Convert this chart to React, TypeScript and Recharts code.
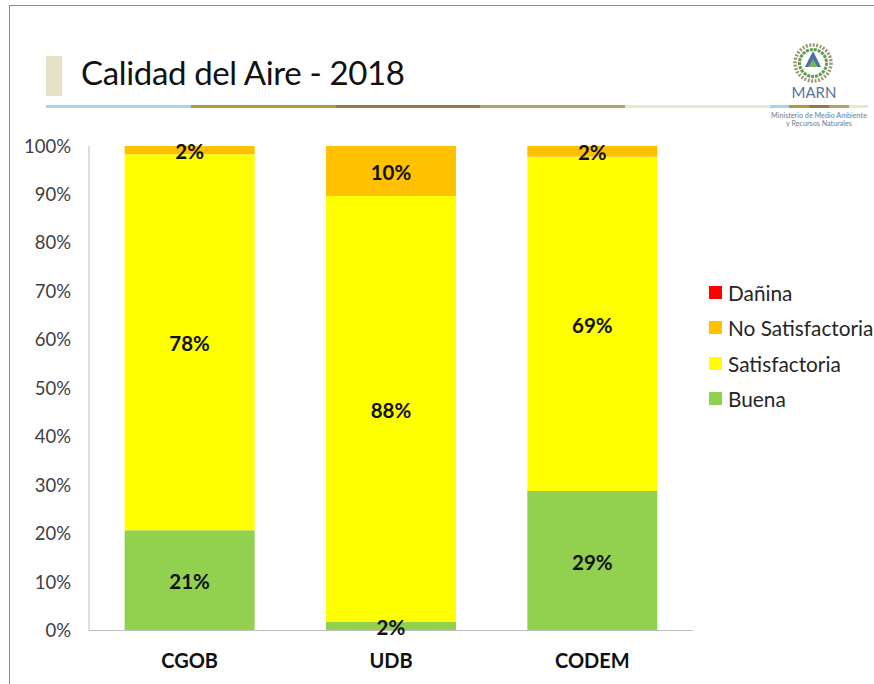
import React from 'react';
import { BarChart, Bar, XAxis, YAxis, Legend, LabelList } from 'recharts';

const STATIONS = ['CGOB', 'UDB', 'CODEM'];
const BUENA = [20.7, 1.8, 28.8];
const SATISFACTORIA = [77.6, 87.9, 69];
const NO_SATISFACTORIA = [1.7, 10.3, 2.2];
const DANINA = [0, 0, 0];
const Y_TICKS = [0, 10, 20, 30, 40, 50, 60, 70, 80, 90, 100];

const FONT = 'Lato, "Open Sans", sans-serif';

const SERIES = [
  { name: 'Buena', values: BUENA, color: '#92d050' },
  { name: 'Satisfactoria', values: SATISFACTORIA, color: '#ffff00' },
  { name: 'No Satisfactoria', values: NO_SATISFACTORIA, color: '#ffc000' },
  { name: 'Dañina', values: DANINA, color: '#ff0000' },
];

const RULE_SEGMENTS = [
  { left: 46, width: 145, color: '#a3d6ea' },
  { left: 191, width: 145, color: '#b09a3e' },
  { left: 336, width: 144, color: '#957a45' },
  { left: 480, width: 145, color: '#aca468' },
  { left: 625, width: 145, color: '#ebe8d2' },
  { left: 770, width: 19, color: '#a3d6ea' },
  { left: 789, width: 20, color: '#b09a3e' },
  { left: 809, width: 20, color: '#957a45' },
  { left: 829, width: 20, color: '#aca468' },
  { left: 849, width: 19, color: '#ebe8d2' },
];

const data = STATIONS.map((station, i) => {
  const row: Record<string, string | number> = { station };
  for (const s of SERIES) row[s.name] = s.values[i];
  return row;
});

const percentLabel = (value: any) => (Number(value) > 0 ? `${Math.round(Number(value))}%` : '');

// label nudged 1px down from the segment centre, as in the original slide
const SegmentLabel = (props: any) => {
  const { x, y, width, height, value } = props;
  const text = percentLabel(value);
  if (!text) return null;
  return (
    <text
      x={x + width / 2}
      y={y + height / 2 + 1}
      textAnchor="middle"
      dominantBaseline="central"
      fontSize={20.5}
      fontWeight={700}
      fill="#111"
    >
      {text}
    </text>
  );
};

const LegendList = () => (
  <div style={{ fontFamily: FONT }}>
    {[...SERIES].reverse().map((s) => (
      <div key={s.name} style={{ display: 'flex', alignItems: 'center', height: 35.3, fontSize: 20.8, color: '#262626', whiteSpace: 'nowrap' }}>
        <span style={{ width: 13, height: 13, background: s.color, marginRight: 6, flex: 'none' }} />
        {s.name}
      </div>
    ))}
  </div>
);

const Logo = () => (
  <svg width={114} height={105} style={{ position: 'absolute', left: 760, top: 30 }}>
    <circle cx={53} cy={33} r={18} fill="none" stroke="#9a9a72" strokeWidth={3.5} strokeDasharray="2 1.5" />
    <circle cx={53} cy={33} r={13.5} fill="none" stroke="#5f9a4a" strokeWidth={3} strokeDasharray="3 1" />
    <polygon points="53,21 61,37 45,37" fill="#4a6ea8" />
    <polygon points="53,29 58,37 48,37" fill="#7fae5a" />
    <text x={54} y={68} textAnchor="middle" fontFamily={FONT} fontSize={15} fill="#5c7299">MARN</text>
    <text x={59} y={88} textAnchor="middle" fontFamily={FONT} fontSize={7.2} fill="#6d7d96">Ministerio de Medio Ambiente</text>
    <text x={59} y={96} textAnchor="middle" fontFamily={FONT} fontSize={7.2} fill="#6d7d96">y Recursos Naturales</text>
  </svg>
);

export default function App() {
  return (
    <div style={{ position: 'absolute', left: 0, top: 0, width: 874, height: 684, background: '#fff', overflow: 'hidden' }}>
      <div style={{ position: 'absolute', left: 9, top: 5, width: 865, height: 1, background: '#8c8c8c' }} />
      <div style={{ position: 'absolute', left: 9, top: 5, width: 1, height: 679, background: '#8c8c8c' }} />
      <div style={{ position: 'absolute', left: 46, top: 56, width: 16, height: 40, background: '#e6e2c8' }} />
      <div style={{ position: 'absolute', left: 81, top: 52, fontFamily: FONT, fontSize: 33, letterSpacing: -0.35, color: '#111', whiteSpace: 'nowrap' }}>
        Calidad del Aire - 2018
      </div>
      {RULE_SEGMENTS.map((seg) => (
        <div key={seg.left} style={{ position: 'absolute', left: seg.left, top: 105, width: seg.width, height: 3, background: seg.color }} />
      ))}
      <Logo />
      <div style={{ position: 'absolute', left: 0, top: 0 }}>
        <BarChart
          width={874}
          height={684}
          data={data}
          barCategoryGap="17.7%"
          margin={{ top: 146, right: 15, bottom: 13.5, left: 29 }}
          style={{ fontFamily: FONT }}
        >
          <XAxis
            dataKey="station"
            height={40}
            tickLine={false}
            axisLine={{ stroke: '#bfbfbf' }}
            tick={{ fontSize: 20, fontWeight: 700, fill: '#111' }}
            tickMargin={17}
          />
          <YAxis
            width={60}
            domain={[0, 100]}
            ticks={Y_TICKS}
            tickFormatter={(v) => `${v}%`}
            tickLine={false}
            axisLine={{ stroke: '#bfbfbf' }}
            tick={{ fontSize: 18.5, fill: '#404040' }}
            tickMargin={12}
            interval={0}
          />
          <Legend
            layout="vertical"
            align="right"
            verticalAlign="middle"
            width={166}
            content={<LegendList />}
            wrapperStyle={{ left: 709, top: 275 }}
          />
          {SERIES.map((s) => (
            <Bar key={s.name} dataKey={s.name} stackId="a" fill={s.color} isAnimationActive={false}>
              <LabelList dataKey={s.name} content={<SegmentLabel />} />
            </Bar>
          ))}
        </BarChart>
      </div>
    </div>
  );
}
